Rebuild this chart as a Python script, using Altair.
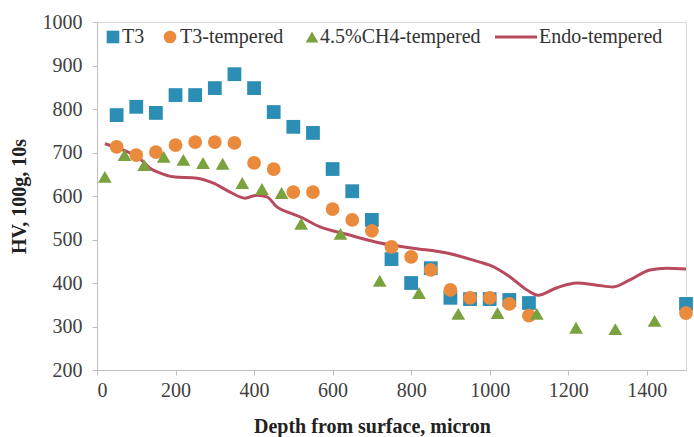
import altair as alt
import pandas as pd

series_names = ["T3", "T3-tempered", "4.5%CH4-tempered", "Endo-tempered"]
series_colors = ["#2C8DB5", "#EA8A3C", "#7BA23F", "#B84A5E"]
series_shapes = ["square", "circle", "triangle-up"]

t3_depth = [50, 100, 150, 200, 250, 300, 350, 400, 450, 500, 550, 600, 650, 700, 750, 800, 850, 900, 950, 1000, 1050, 1100, 1500]
t3_hv = [786, 805, 791, 832, 832, 848, 880, 848, 793, 759, 745, 662, 611, 545, 455, 400, 434, 366, 363, 363, 361, 354, 352]

t3t_depth = [50, 100, 150, 200, 250, 300, 350, 400, 450, 500, 550, 600, 650, 700, 750, 800, 850, 900, 950, 1000, 1050, 1100, 1500]
t3t_hv = [713, 694, 701, 717, 724, 724, 722, 676, 662, 609, 609, 570, 545, 520, 483, 460, 430, 384, 366, 366, 352, 325, 331]

ch4_depth = [20, 70, 120, 170, 220, 270, 320, 370, 420, 470, 520, 620, 720, 820, 920, 1020, 1120, 1220, 1320, 1420]
ch4_hv = [644, 694, 671, 690, 683, 676, 674, 630, 616, 607, 536, 513, 405, 377, 329, 331, 329, 297, 294, 313]

endo_depth = [20, 66, 110, 135, 160, 194, 255, 295, 339, 377, 407, 433, 458, 491, 517, 568, 636, 721, 805, 891, 975, 1000, 1052, 1095, 1123, 1171, 1222, 1273, 1314, 1357, 1408, 1451, 1500]
endo_hv = [720, 706, 685, 664, 653, 644, 641, 630, 609, 595, 602, 598, 575, 561, 552, 529, 512, 492, 480, 469, 448, 441, 414, 384, 372, 389, 400, 395, 391, 407, 430, 434, 432]

x_ticks = [0, 200, 400, 600, 800, 1000, 1200, 1400]
y_ticks = [200, 300, 400, 500, 600, 700, 800, 900, 1000]

rows = []
for name, xs, ys in [(series_names[0], t3_depth, t3_hv),
                     (series_names[1], t3t_depth, t3t_hv),
                     (series_names[2], ch4_depth, ch4_hv)]:
    for a, b in zip(xs, ys):
        rows.append({"series": name, "depth": a, "hv": b})
pts = pd.DataFrame(rows)
endo = pd.DataFrame({"series": series_names[3], "depth": endo_depth, "hv": endo_hv})

FONT = "Liberation Serif"

xscale = alt.Scale(domain=[0, 1500], nice=False, zero=False)
yscale = alt.Scale(domain=[200, 1000], nice=False, zero=False)

xaxis = alt.Axis(values=x_ticks, format="d", title="Depth from surface, micron",
                 titleX=275, titleY=56, titleBaseline="middle", titleAnchor="middle")
yaxis = alt.Axis(values=y_ticks, format="d", title="HV, 100g, 10s",
                 titleX=-78, titleY=174, titleAngle=270, titleBaseline="middle", titleAlign="center")

line = alt.Chart(endo).mark_line(strokeWidth=3, interpolate="monotone", color=series_colors[3]).encode(
    x=alt.X("depth:Q", scale=xscale, axis=xaxis),
    y=alt.Y("hv:Q", scale=yscale, axis=yaxis),
)

points = alt.Chart(pts).mark_point(filled=True, size=190, opacity=1).encode(
    x=alt.X("depth:Q", scale=xscale),
    y=alt.Y("hv:Q", scale=yscale),
    color=alt.Color("series:N", scale=alt.Scale(domain=series_names[:3], range=series_colors[:3]), legend=None),
    shape=alt.Shape("series:N", scale=alt.Scale(domain=series_names[:3], range=series_shapes), legend=None),
)

# manual legend inside the plot
LY = 15
sym_x = [16, 73, 215]
txt_x = [25, 83, 223, 442]
legend_layers = []
for i in range(3):
    legend_layers.append(
        alt.Chart(pd.DataFrame({"label": [series_names[i]]})).mark_point(
            filled=True, size=160, opacity=1, shape=series_shapes[i], color=series_colors[i]
        ).encode(x=alt.value(sym_x[i]), y=alt.value(LY))
    )
legend_layers.append(
    alt.Chart(pd.DataFrame({"label": [series_names[3]]})).mark_rule(
        strokeWidth=3, color=series_colors[3]
    ).encode(x=alt.value(398), x2=alt.value(440), y=alt.value(LY))
)
for i in range(4):
    legend_layers.append(
        alt.Chart(pd.DataFrame({"label": [series_names[i]]})).mark_text(
            font=FONT, fontSize=20, color="#333333", align="left", baseline="middle"
        ).encode(x=alt.value(txt_x[i]), y=alt.value(LY), text="label:N")
    )

chart = alt.layer(line, points, *legend_layers).properties(
    width=589, height=348,
    autosize=alt.AutoSizeParams(type="none"),
    padding={"left": 97, "top": 22, "right": 8, "bottom": 67},
    background="white",
).configure_view(
    stroke="#D9D9D9", strokeWidth=1
).configure_axis(
    grid=False,
    domainColor="#BFBFBF", tickColor="#BFBFBF", tickSize=5,
    labelFont=FONT, labelFontSize=20, labelColor="#404040",
    titleFont=FONT, titleFontSize=20, titleFontWeight="bold", titleColor="#222222",
).configure_axisX(labelPadding=5).configure_axisY(labelPadding=10)

chart.save("out.html", embed_options={"renderer": "svg", "actions": False})
